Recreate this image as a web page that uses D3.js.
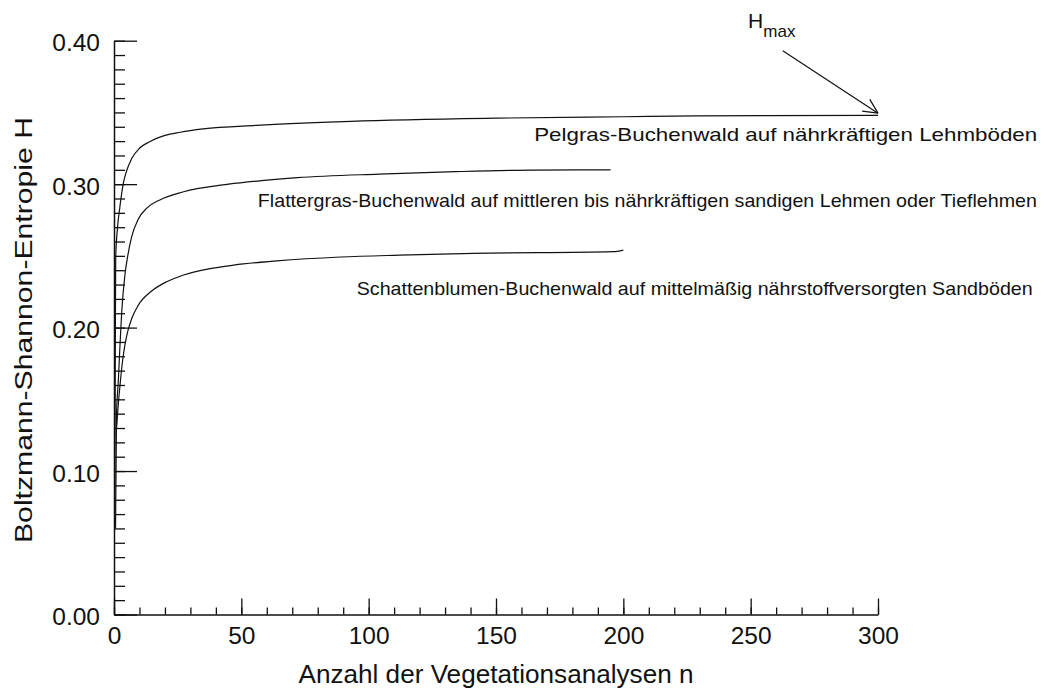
<!DOCTYPE html>
<html>
<head>
<meta charset="utf-8">
<script src="https://d3js.org/d3.v7.min.js"></script>
<style>
  body { margin: 0; background: #fff; }
  svg text { font-family: "Liberation Sans", Arial, Helvetica, sans-serif; fill: #111; }
  .domain { stroke: #111; stroke-width: 1.5; }
  .tick line { stroke: #111; stroke-width: 1.3; }
</style>
</head>
<body>
<svg id="chart" width="1045" height="691"></svg>
<script>
// entropy curves H(n)
const pelgras = [[0.3,0.06],[0.5,0.18],[0.67,0.249],[1.4,0.27],[2.3,0.284],[3.6,0.3],[4.9,0.309],[7,0.318],[10,0.325],[14,0.3296],[20,0.334],[26,0.3362],[35,0.3385],[56,0.341],[93,0.3438],[150,0.346],[200,0.347],[229,0.3476],[300,0.348]];
const flattergras = [[0.6,0.06],[1,0.14],[1.7,0.163],[2.3,0.186],[3,0.21],[4.3,0.237],[5.3,0.249],[6.9,0.263],[9.5,0.2755],[13,0.2835],[18,0.289],[27,0.2945],[45,0.3],[58,0.3025],[72,0.3045],[104,0.307],[134,0.3087],[164,0.3098],[195,0.31]];
const schattenblumen = [[1,0.13],[1.7,0.147],[2.3,0.1587],[3.6,0.18],[4.3,0.188],[5.5,0.198],[6.9,0.206],[9.5,0.2155],[14.8,0.2255],[20.7,0.232],[27,0.2365],[47,0.2436],[64,0.2465],[89,0.2492],[112,0.2505],[141,0.2517],[196,0.2529],[200,0.254]];

const seriesNames = [
  "Pelgras-Buchenwald auf nährkräftigen Lehmböden",
  "Flattergras-Buchenwald auf mittleren bis nährkräftigen sandigen Lehmen oder Tieflehmen",
  "Schattenblumen-Buchenwald auf mittelmäßig nährstoffversorgten Sandböden"
];
// label anchor (n, H) and rendered width
const labelPos = [[165, 0.33], [56.5, 0.2842], [95.3, 0.2227]];
const labelWidth = [503, 779, 676];

const xTicks = [0, 50, 100, 150, 200, 250, 300];
const yTicks = [0.0, 0.1, 0.2, 0.3, 0.4];

const svg = d3.select("#chart");
const x = d3.scaleLinear().domain([0, 300]).range([114, 878]);
const y = d3.scaleLinear().domain([0, 0.4]).range([614.5, 40.7]);

// y axis: minor ticks, major ticks (pointing inward), labels on the left
svg.append("g").attr("transform", "translate(114,0)")
  .call(d3.axisRight(y).tickValues(d3.range(0, 41).map(i => i / 100)).tickSize(11).tickFormat(""))
  .call(g => g.select(".domain").remove());
svg.append("g").attr("transform", "translate(114,0)")
  .call(d3.axisRight(y).tickValues(yTicks).tickSize(23).tickSizeOuter(0).tickFormat(""));
svg.append("g").attr("transform", "translate(114,0)")
  .call(d3.axisLeft(y).tickValues(yTicks).tickSize(0).tickPadding(14).tickFormat(d3.format(".2f")))
  .call(g => g.select(".domain").remove())
  .selectAll("text").style("font-size", "24.5px").attr("dy", "0.42em");

// x axis
svg.append("g").attr("transform", "translate(0,614.5)")
  .call(d3.axisTop(x).tickValues(d3.range(0, 301, 10)).tickSize(7).tickFormat(""))
  .call(g => g.select(".domain").remove());
svg.append("g").attr("transform", "translate(0,614.5)")
  .call(d3.axisTop(x).tickValues(xTicks).tickSize(16).tickSizeOuter(0).tickFormat(""));
svg.append("g").attr("transform", "translate(0,614.5)")
  .call(d3.axisBottom(x).tickValues(xTicks).tickSize(0).tickPadding(12).tickFormat(d3.format("d")))
  .call(g => g.select(".domain").remove())
  .selectAll("text").style("font-size", "24.5px").attr("dy", "0.71em");

// axis titles
svg.append("text")
  .attr("x", x(150)).attr("y", 683)
  .attr("text-anchor", "middle")
  .attr("textLength", 395).attr("lengthAdjust", "spacingAndGlyphs")
  .style("font-size", "25px")
  .text("Anzahl der Vegetationsanalysen n");
svg.append("text")
  .attr("transform", "translate(32," + ((543 + 117) / 2) + ") rotate(-90)")
  .attr("text-anchor", "middle")
  .attr("textLength", 426).attr("lengthAdjust", "spacingAndGlyphs")
  .style("font-size", "23.5px")
  .text("Boltzmann-Shannon-Entropie H");

// curves
const line = d3.line().x(d => x(d[0])).y(d => y(d[1])).curve(d3.curveMonotoneX);
[pelgras, flattergras, schattenblumen].forEach(s => {
  svg.append("path").datum(s)
    .attr("d", line)
    .attr("fill", "none")
    .attr("stroke", "#111")
    .attr("stroke-width", 1.2);
});

// curve labels
seriesNames.forEach((name, i) => {
  svg.append("text")
    .attr("x", x(labelPos[i][0])).attr("y", y(labelPos[i][1]))
    .attr("textLength", labelWidth[i]).attr("lengthAdjust", "spacingAndGlyphs")
    .style("font-size", "19px")
    .text(name);
});

// H_max annotation with open arrow head
const arrowFrom = [262.6, 0.393], arrowTo = [300, 0.3495];
const ax0 = x(arrowFrom[0]), ay0 = y(arrowFrom[1]), ax1 = x(arrowTo[0]), ay1 = y(arrowTo[1]);
svg.append("line")
  .attr("x1", ax0).attr("y1", ay0).attr("x2", ax1).attr("y2", ay1)
  .attr("stroke", "#111").attr("stroke-width", 1.2);
const ang = Math.atan2(ay1 - ay0, ax1 - ax0);
[0.45, -0.45].forEach(da => {
  svg.append("line")
    .attr("x1", ax1).attr("y1", ay1)
    .attr("x2", ax1 - 16 * Math.cos(ang + da)).attr("y2", ay1 - 16 * Math.sin(ang + da))
    .attr("stroke", "#111").attr("stroke-width", 1.2);
});
const hmax = svg.append("text")
  .attr("x", x(249)).attr("y", 28)
  .style("font-size", "21px");
hmax.append("tspan").text("H");
hmax.append("tspan").attr("dy", 9).style("font-size", "17px").text("max");
</script>
</body>
</html>
